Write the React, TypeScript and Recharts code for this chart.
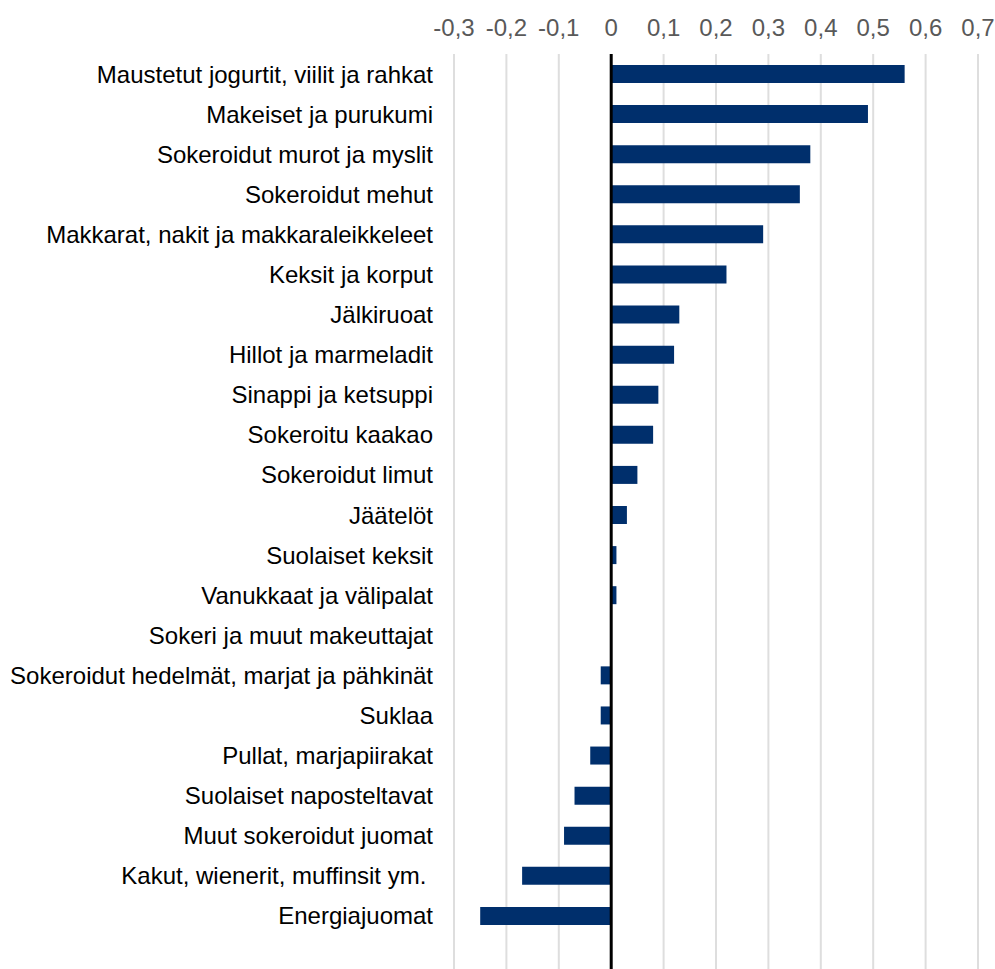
import { BarChart, Bar, XAxis, YAxis, CartesianGrid, ReferenceLine } from 'recharts';

const categories = [
  'Maustetut jogurtit, viilit ja rahkat',
  'Makeiset ja purukumi',
  'Sokeroidut murot ja myslit',
  'Sokeroidut mehut',
  'Makkarat, nakit ja makkaraleikkeleet',
  'Keksit ja korput',
  'Jälkiruoat',
  'Hillot ja marmeladit',
  'Sinappi ja ketsuppi',
  'Sokeroitu kaakao',
  'Sokeroidut limut',
  'Jäätelöt',
  'Suolaiset keksit',
  'Vanukkaat ja välipalat',
  'Sokeri ja muut makeuttajat',
  'Sokeroidut hedelmät, marjat ja pähkinät',
  'Suklaa',
  'Pullat, marjapiirakat',
  'Suolaiset naposteltavat',
  'Muut sokeroidut juomat',
  'Kakut, wienerit, muffinsit ym.\u00a0',
  'Energiajuomat',
];

const values = [
  0.56, 0.49, 0.38, 0.36, 0.29, 0.22, 0.13, 0.12, 0.09, 0.08, 0.05, 0.03, 0.01, 0.01, 0,
  -0.02, -0.02, -0.04, -0.07, -0.09, -0.17, -0.25,
];

const xTicks = [-0.3, -0.2, -0.1, 0, 0.1, 0.2, 0.3, 0.4, 0.5, 0.6, 0.7];

const data = categories.map((name, i) => ({ name, value: values[i] }));

const font = '"Liberation Sans", Arial, sans-serif';

export default function App() {
  return (
    <div style={{ position: 'absolute', left: 0, top: 0 }}>
      <BarChart
        width={995}
        height={969}
        data={data}
        layout="vertical"
        margin={{ top: 0, right: 17, bottom: 0, left: 0 }}
        barCategoryGap={0}
      >
        <CartesianGrid horizontal={false} stroke="#dedede" strokeWidth={2} />
        <XAxis
          type="number"
          orientation="top"
          domain={[-0.3, 0.7]}
          ticks={xTicks}
          height={54}
          axisLine={false}
          tickLine={false}
          tickSize={0}
          tickMargin={18}
          interval={0}
          tickFormatter={(v: number) => String(v).replace('.', ',')}
          tick={{ fill: '#595959', fontSize: 24, fontFamily: font }}
        />
        <YAxis
          type="category"
          dataKey="name"
          width={454}
          axisLine={false}
          tickLine={false}
          tickSize={0}
          tickMargin={21}
          interval={0}
          padding={{ top: 0, bottom: 33 }}
          tick={{ fill: '#000000', fontSize: 24, fontFamily: font }}
        />
        <Bar dataKey="value" fill="#002f6c" barSize={18} isAnimationActive={false} />
        <ReferenceLine x={0} stroke="#000000" strokeWidth={3} />
      </BarChart>
    </div>
  );
}
